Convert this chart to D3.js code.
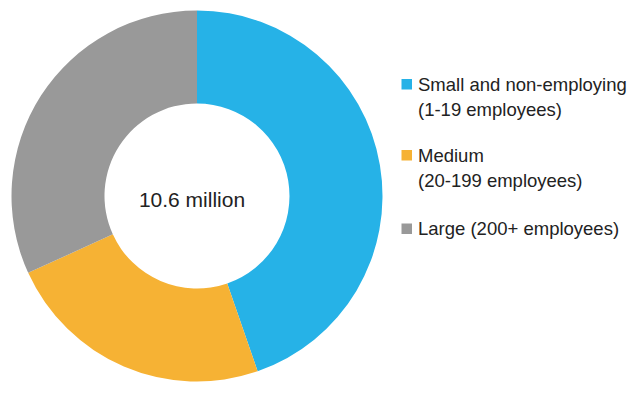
<!DOCTYPE html>
<html>
<head>
<meta charset="utf-8">
<script src="https://cdn.jsdelivr.net/npm/d3@7"></script>
<style>
  html, body { margin: 0; padding: 0; background: #fff; }
  svg { display: block; font-family: "Liberation Sans", Arial, Helvetica, sans-serif; }
</style>
</head>
<body>
<svg id="chart" width="640" height="394"></svg>
<script>
const categories = ["Small and non-employing", "Medium", "Large (200+ employees)"];
const subLabels = ["(1-19 employees)", "(20-199 employees)", ""];
const shares = [44.7, 23.5, 31.8];
const colors = ["#26b2e7", "#f6b234", "#999999"];
const centerLabel = "10.6 million";

const svg = d3.select("#chart");
const cx = 197, cy = 196, outerR = 185.5, innerR = 92.5;

const pie = d3.pie().sort(null).value(d => d)(shares);
const arc = d3.arc().innerRadius(innerR).outerRadius(outerR);
const color = d3.scaleOrdinal().domain(categories).range(colors);

const g = svg.append("g").attr("transform", `translate(${cx},${cy})`);
g.selectAll("path").data(pie).join("path")
  .attr("d", arc)
  .attr("fill", (d, i) => color(categories[i]));

svg.append("text")
  .attr("x", 192).attr("y", 207)
  .attr("text-anchor", "middle")
  .attr("font-size", 21)
  .attr("fill", "#222")
  .text(centerLabel);

// legend
const legendY = [90.5, 161.5, 235];
const lineGap = 25.5;
const lg = svg.append("g");
categories.forEach((c, i) => {
  const y = legendY[i];
  lg.append("rect")
    .attr("x", 401.5).attr("y", y - 11.5)
    .attr("width", 10.5).attr("height", 10.5)
    .attr("fill", color(c));
  lg.append("text")
    .attr("x", 418).attr("y", y)
    .attr("font-size", 18.5).attr("fill", "#222")
    .text(i === 1 ? "Medium" : c);
  if (subLabels[i]) {
    lg.append("text")
      .attr("x", 418).attr("y", y + lineGap)
      .attr("font-size", 18.5).attr("fill", "#222")
      .text(subLabels[i]);
  }
});
</script>
</body>
</html>
